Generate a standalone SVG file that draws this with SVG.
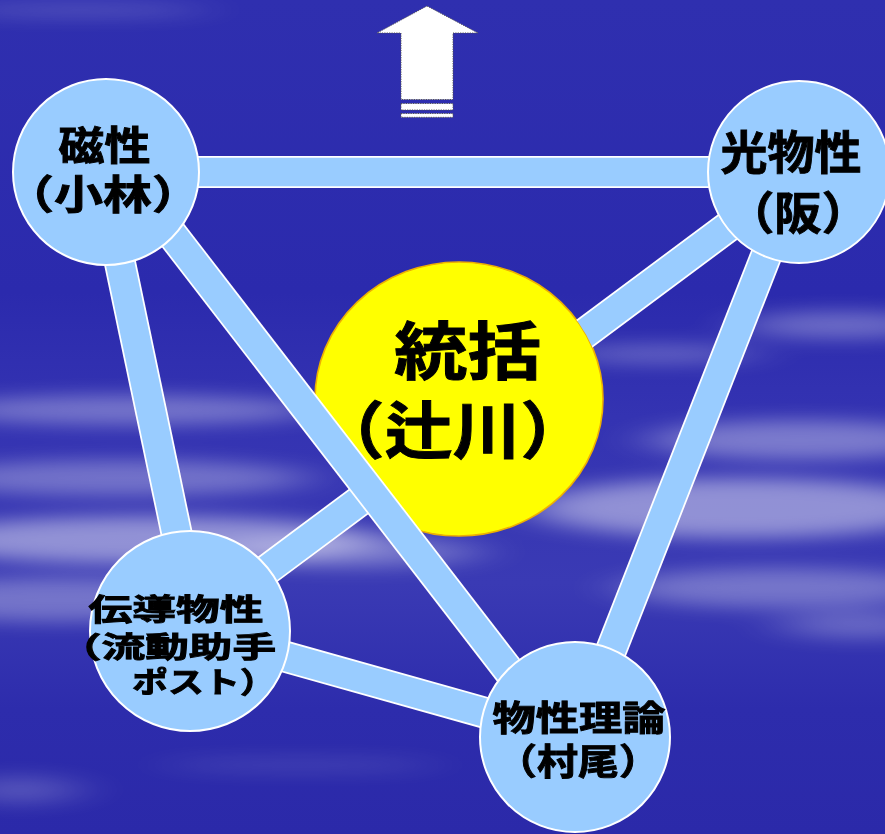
<svg xmlns="http://www.w3.org/2000/svg" width="885" height="834" viewBox="0 0 885 834">
<style>
.edge-o{stroke:#FFFFFF;stroke-width:32;fill:none}
.edge-i{stroke:#99CCFF;stroke-width:28.5;fill:none}
.node{fill:#99CCFF;stroke:#FFFFFF;stroke-width:2}
.lbl{font-family:"Noto Sans CJK JP","Noto Sans CJK SC",sans-serif;font-weight:700;fill:#000000;stroke:#000000;stroke-width:0.9;text-anchor:middle}
.cloud{fill:#FFFFFF}
</style>
<defs>
<filter id="blur" x="-50%" y="-300%" width="200%" height="700%">
<feGaussianBlur stdDeviation="28 9"/>
</filter>
<linearGradient id="bg" x1="0" y1="0" x2="0" y2="1">
<stop offset="0" stop-color="#2F2FAF"/>
<stop offset="0.35" stop-color="#2B2AAD"/>
<stop offset="0.5" stop-color="#3433B2"/>
<stop offset="0.7" stop-color="#3A3AB4"/>
<stop offset="0.85" stop-color="#2D2CAC"/>
<stop offset="1" stop-color="#2B29A9"/>
</linearGradient>
<mask id="cutYellow" maskUnits="userSpaceOnUse" x="0" y="0" width="885" height="834">
<rect x="0" y="0" width="885" height="834" fill="#FFFFFF"/>
<ellipse cx="459" cy="399" rx="144" ry="137" fill="#000000"/>
</mask>
</defs>

<g id="background">
<rect x="0" y="0" width="885" height="834" fill="url(#bg)"/>
<g filter="url(#blur)">
<ellipse class="cloud" cx="80" cy="10" rx="130" ry="7" opacity="0.18"/>
<ellipse class="cloud" cx="130" cy="410" rx="190" ry="15" opacity="0.32"/>
<ellipse class="cloud" cx="120" cy="478" rx="190" ry="18" opacity="0.3"/>
<ellipse class="cloud" cx="150" cy="540" rx="230" ry="24" opacity="0.45"/>
<ellipse class="cloud" cx="60" cy="600" rx="170" ry="22" opacity="0.3"/>
<ellipse class="cloud" cx="350" cy="552" rx="130" ry="16" opacity="0.3"/>
<ellipse class="cloud" cx="660" cy="354" rx="100" ry="10" opacity="0.25"/>
<ellipse class="cloud" cx="840" cy="325" rx="100" ry="14" opacity="0.3"/>
<ellipse class="cloud" cx="800" cy="440" rx="150" ry="20" opacity="0.35"/>
<ellipse class="cloud" cx="740" cy="508" rx="210" ry="30" opacity="0.45"/>
<ellipse class="cloud" cx="780" cy="588" rx="160" ry="20" opacity="0.3"/>
<ellipse class="cloud" cx="860" cy="625" rx="80" ry="14" opacity="0.25"/>
<ellipse class="cloud" cx="20" cy="790" rx="60" ry="14" opacity="0.2"/>
<ellipse class="cloud" cx="300" cy="765" rx="140" ry="8" opacity="0.1"/>
</g>
</g>

<g id="arrow">
<polygon points="427,6 478,33 453,33 453,99.5 401,99.5 401,33 377,33" fill="#FFFFFF" stroke="#555555" stroke-width="1" stroke-dasharray="1.2 1.2"/>
<rect x="401" y="103.5" width="52" height="6.5" fill="#FFFFFF" stroke="#555555" stroke-width="1" stroke-dasharray="1.2 1.2"/>
<rect x="401" y="113.5" width="52" height="3.8" fill="#FFFFFF" stroke="#555555" stroke-width="1" stroke-dasharray="1.2 1.2"/>
</g>

<g id="node-tokatsu">
<ellipse cx="459" cy="399" rx="144" ry="137" fill="#FFFF00" stroke="#EFB000" stroke-width="1.6"/>
<text class="lbl" x="467.5" y="374" font-size="63" textLength="147" lengthAdjust="spacingAndGlyphs">統括</text>
<text class="lbl" x="452.5" y="454" font-size="62" textLength="272" lengthAdjust="spacingAndGlyphs">（辻川）</text>
</g>

<g id="connectors">
<g mask="url(#cutYellow)">
<line class="edge-o" x1="799" y1="174" x2="190" y2="627"/>
<line class="edge-i" x1="799" y1="174" x2="190" y2="627"/>
</g>
<line class="edge-o" x1="106" y1="172" x2="799" y2="172"/>
<line class="edge-i" x1="106" y1="172" x2="799" y2="172"/>
<line class="edge-o" x1="101" y1="172" x2="197" y2="631"/>
<line class="edge-i" x1="101" y1="172" x2="197" y2="631"/>
<line class="edge-o" x1="799" y1="172" x2="577" y2="737"/>
<line class="edge-i" x1="799" y1="172" x2="577" y2="737"/>
<line class="edge-o" x1="190" y1="630" x2="575" y2="738"/>
<line class="edge-i" x1="190" y1="630" x2="575" y2="738"/>
<line class="edge-o" x1="124" y1="172" x2="560" y2="737"/>
<line class="edge-i" x1="124" y1="172" x2="560" y2="737"/>
</g>

<g id="node-jisei">
<circle class="node" cx="106" cy="172" r="93"/>
<text class="lbl" x="104.5" y="160" font-size="40" textLength="92" lengthAdjust="spacingAndGlyphs">磁性</text>
<text class="lbl" x="103" y="209" font-size="40" textLength="196" lengthAdjust="spacingAndGlyphs">（小林）</text>
</g>

<g id="node-hikaribussei">
<circle class="node" cx="799" cy="172" r="91"/>
<text class="lbl" x="791" y="169" font-size="46" textLength="141" lengthAdjust="spacingAndGlyphs">光物性</text>
<text class="lbl" x="798" y="230" font-size="45" textLength="142" lengthAdjust="spacingAndGlyphs">（阪）</text>
</g>

<g id="node-dendo">
<circle class="node" cx="190" cy="631" r="100"/>
<text class="lbl" x="176" y="620" font-size="30" textLength="175" lengthAdjust="spacingAndGlyphs">伝導物性</text>
<text class="lbl" x="167" y="658" font-size="29" textLength="218" lengthAdjust="spacingAndGlyphs">（流動助手</text>
<text class="lbl" x="204" y="693" font-size="29" textLength="144" lengthAdjust="spacingAndGlyphs">ポスト）</text>
</g>

<g id="node-riron">
<circle class="node" cx="575" cy="737" r="95"/>
<text class="lbl" x="579" y="731" font-size="35" textLength="173" lengthAdjust="spacingAndGlyphs">物性理論</text>
<text class="lbl" x="578" y="775" font-size="36" textLength="164" lengthAdjust="spacingAndGlyphs">（村尾）</text>
</g>
</svg>
